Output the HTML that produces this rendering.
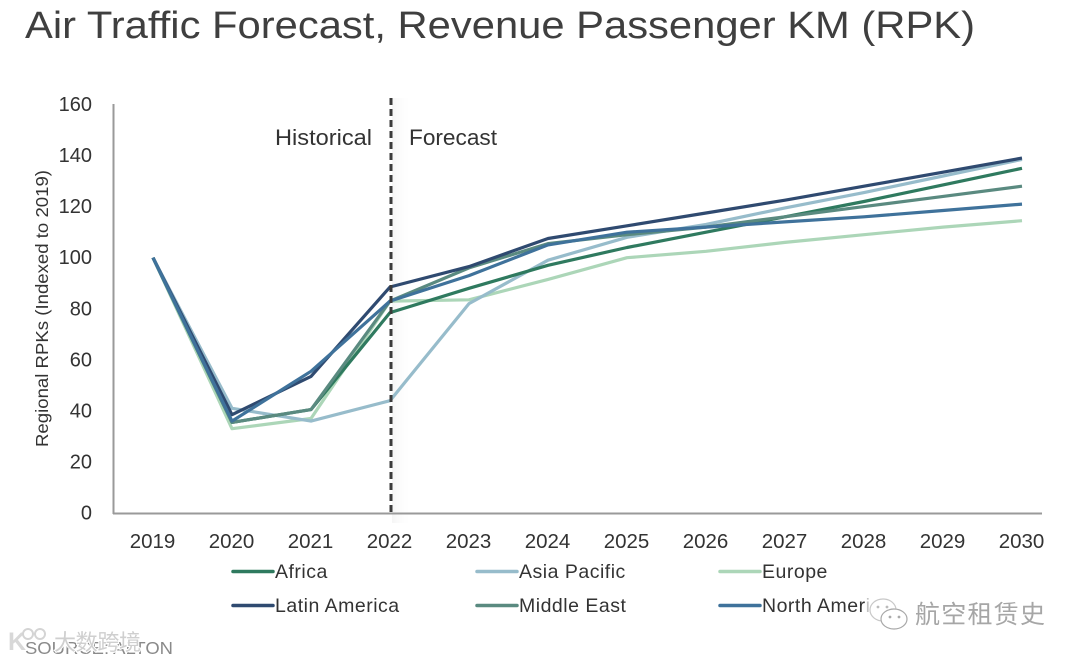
<!DOCTYPE html>
<html lang="en">
<head>
<meta charset="utf-8">
<title>Air Traffic Forecast</title>
<style>
html,body{margin:0;padding:0;background:#fff;width:1080px;height:661px;overflow:hidden}
svg{display:block}
text{font-family:"Liberation Sans","Noto Sans CJK SC",sans-serif;fill:#333}
</style>
</head>
<body>
<svg id="chart" xmlns="http://www.w3.org/2000/svg" width="1080" height="661" viewBox="0 0 1080 661">
  <defs>
    <linearGradient id="shade" x1="0" x2="1" y1="0" y2="0">
      <stop offset="0" stop-color="#eeeeee" stop-opacity="0.6"/>
      <stop offset="1" stop-color="#ffffff" stop-opacity="0"/>
    </linearGradient>
  </defs>
  <text x="25" y="38" font-size="38" textLength="950" lengthAdjust="spacingAndGlyphs" style="fill:#3f3f3f">Air Traffic Forecast, Revenue Passenger KM (RPK)</text>
  <rect x="392" y="98" width="20" height="425" fill="url(#shade)"/>
  <g id="axes"></g>
  <g id="series"></g>
  <line x1="391" y1="98" x2="391" y2="514" stroke="#3b3b3b" stroke-width="3" stroke-dasharray="7 4"/>
  <text x="275" y="145" font-size="22" textLength="97" lengthAdjust="spacingAndGlyphs">Historical</text>
  <text x="409" y="145" font-size="22" textLength="88" lengthAdjust="spacingAndGlyphs">Forecast</text>
  <text transform="translate(48,447) rotate(-90)" font-size="17.5" textLength="277" lengthAdjust="spacingAndGlyphs">Regional RPKs (Indexed to 2019)</text>
  <g id="legend"></g>
  <text x="25" y="654" font-size="17.5" textLength="148" lengthAdjust="spacingAndGlyphs" style="fill:#8a8a8a">SOURCE: ALTON</text>
  <g>
    <text x="8" y="650" font-size="25" font-weight="bold" style="fill:#d8d8d8;stroke:#fff;stroke-width:1.5;paint-order:stroke">K</text>
    <circle cx="28" cy="634" r="5" fill="#fff" stroke="#d4d4d4" stroke-width="2"/>
    <circle cx="40" cy="634" r="5" fill="#fff" stroke="#d4d4d4" stroke-width="2"/>
    <text x="54" y="650" font-size="22" textLength="87" style="fill:#cfcfcf;stroke:#fff;stroke-width:2;paint-order:stroke">大数跨境</text>
  </g>
  <g>
    <rect x="866" y="596" width="40" height="34" fill="#fff" opacity="0.7"/>
    <ellipse cx="883" cy="610" rx="13" ry="11" fill="#fff" stroke="#c8c8c8" stroke-width="1.2"/>
    <circle cx="878" cy="607" r="1.4" fill="#bbb"/>
    <circle cx="887" cy="607" r="1.4" fill="#bbb"/>
    <ellipse cx="894" cy="619" rx="13" ry="10" fill="#fff" stroke="#a8a8a8" stroke-width="1.2"/>
    <circle cx="890" cy="617" r="1.4" fill="#aaa"/>
    <circle cx="899" cy="617" r="1.4" fill="#aaa"/>
    <text x="915" y="623" font-size="25" textLength="130" style="fill:#a6a6a6">航空租赁史</text>
  </g>
</svg>
<script>
var years = ["2019","2020","2021","2022","2023","2024","2025","2026","2027","2028","2029","2030"];
var yTicks = [0,20,40,60,80,100,120,140,160];
var seriesNames = ["Europe","Asia Pacific","Africa","Middle East","Latin America","North America"];
var seriesColors = ["#acd6b8","#97bccb","#2f7a5f","#5a8a80","#2f4a70","#3f729b"];
var europe = [100,33,37,83,83.5,91.5,100,102.5,106,109,112,114.5];
var asiaPacific = [100,41,36,44,82,99,108,113,119.5,125.5,132,138.5];
var africa = [100,35.5,40.5,78.5,88,97,104,110,116,122,128.5,135];
var middleEast = [100,35.5,40.5,83,96,105.5,109,112,116,120,124,128];
var latinAmerica = [100,38.5,53.5,88.5,96.5,107.5,112.5,117.5,122.5,128,133.5,139];
var northAmerica = [100,36,55.5,83,93,105,110,112,114,116,118.5,121];
var seriesValues = [europe,asiaPacific,africa,middleEast,latinAmerica,northAmerica];
var legendOrder = ["Africa","Asia Pacific","Europe","Latin America","Middle East","North America"];

var NS = "http://www.w3.org/2000/svg";
function xScale(i){ return 153 + i * (1022 - 153) / (years.length - 1); }
function yScale(v){ return 513 - v * (513 - 104.5) / 160; }
function make(tag, attrs, parent, txt){
  var el = document.createElementNS(NS, tag);
  for (var k in attrs) el.setAttribute(k, attrs[k]);
  if (txt !== undefined) el.textContent = txt;
  parent.appendChild(el);
  return el;
}
var axes = document.getElementById("axes");
var xAxisLine = make("line",{x1:113,y1:513.5,x2:1042,y2:513.5,stroke:"#9a9a9a","stroke-width":2},axes);


var yAxisLine = make("line",{x1:113.5,y1:104,x2:113.5,y2:514,stroke:"#9a9a9a","stroke-width":2},axes);


yTicks.forEach(function(t){
  var el = make("text",{x:92,y:yScale(t)+6.5,"text-anchor":"end","font-size":20},axes,String(t));
  
  
});
years.forEach(function(y,i){
  var el = make("text",{x:xScale(i)-0.5,y:548,"text-anchor":"middle","font-size":20.5},axes,y);
  
  
});
var seriesGroup = document.getElementById("series");
seriesValues.forEach(function(vals,s){
  var pts = vals.map(function(v,i){ return xScale(i).toFixed(1)+","+yScale(v).toFixed(1); }).join(" ");
  var el = make("polyline",{points:pts,fill:"none",stroke:seriesColors[s],"stroke-width":3.2,"stroke-linejoin":"round"},seriesGroup);
  
  
});
var legend = document.getElementById("legend");
legendOrder.forEach(function(name,i){
  var col = i % 3, row = Math.floor(i / 3);
  var x = [232,476,719][col], y = 571.5 + row * 34;
  var color = seriesColors[seriesNames.indexOf(name)];
  var swatch = make("line",{x1:x+1,y1:y,x2:x+41,y2:y,stroke:color,"stroke-width":3.5,"stroke-linecap":"round"},legend);
  
  
  var label = make("text",{x:x+43,y:y+6.5,"font-size":19.5,"letter-spacing":0.5},legend,name);
  
  
});
</script>
</body>
</html>
